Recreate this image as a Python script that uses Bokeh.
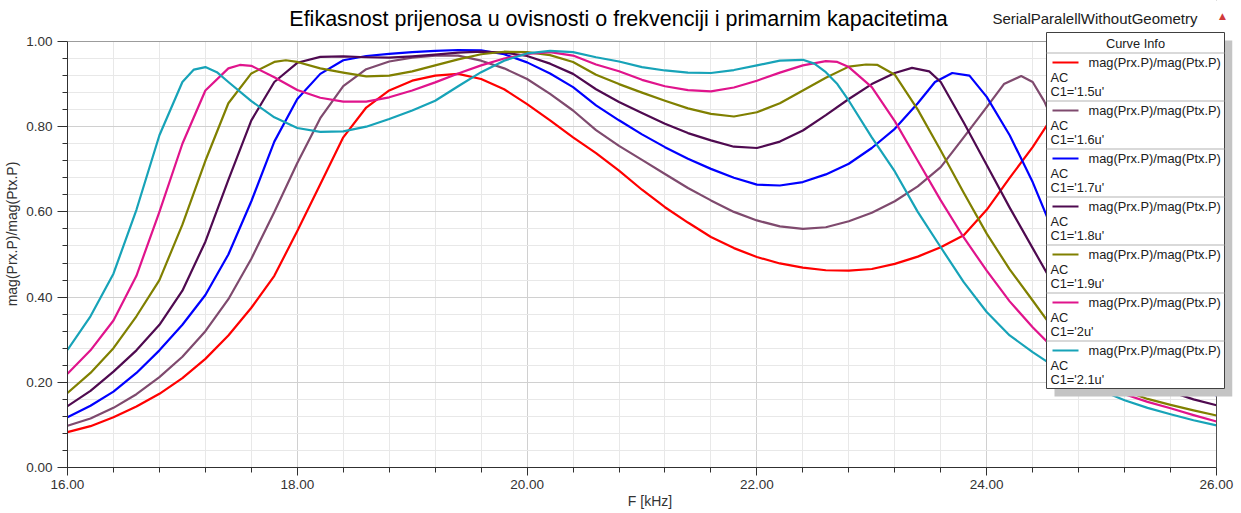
import math
from bokeh.plotting import figure
from bokeh.models import Range1d, FixedTicker, NumeralTickFormatter, Label, BoxAnnotation, Span
from bokeh.embed import file_html
from bokeh.resources import INLINE

# ---------------- data ----------------
f_15 = [16.0,16.2,16.4,16.6,16.8,17.0,17.2,17.4,17.6,17.8,18.0,18.2,18.4,18.6,18.8,19.0,19.2,19.4,19.6,19.8,
        20.0,20.2,20.4,20.6,20.8,21.0,21.2,21.4,21.6,21.8,22.0,22.2,22.4,22.6,22.8,23.0,23.2,23.4,23.6,23.8,
        24.0,24.2,24.4,24.6,24.8,25.0,25.2,25.4,25.6,25.8,26.0]
v_15 = [0.083,0.097,0.118,0.143,0.173,0.210,0.255,0.310,0.375,0.450,0.555,0.665,0.775,0.845,0.885,0.908,0.920,0.924,0.912,0.888,
        0.853,0.815,0.775,0.738,0.697,0.652,0.611,0.575,0.541,0.515,0.494,0.479,0.469,0.463,0.462,0.466,0.478,0.495,0.517,0.545,
        0.605,0.680,0.752,0.835,0.885,0.905,0.900,0.860,0.770,0.660,0.560]

f_16 = [16.0,16.2,16.4,16.6,16.8,17.0,17.2,17.4,17.6,17.8,18.0,18.2,18.4,18.6,18.8,19.0,19.2,19.4,19.6,19.8,
        20.0,20.2,20.4,20.6,20.8,21.0,21.2,21.4,21.6,21.8,22.0,22.2,22.4,22.6,22.8,23.0,23.2,23.4,23.6,23.8,
        24.0,24.15,24.3,24.4,24.5,24.6,24.8,25.0,25.2,25.4,25.6,25.8,26.0]
v_16 = [0.098,0.115,0.140,0.172,0.212,0.260,0.320,0.395,0.490,0.600,0.715,0.820,0.895,0.935,0.953,0.962,0.967,0.967,0.955,0.937,
        0.912,0.877,0.838,0.792,0.755,0.722,0.689,0.656,0.627,0.600,0.580,0.566,0.560,0.564,0.578,0.598,0.625,0.660,0.705,0.775,
        0.846,0.900,0.919,0.905,0.860,0.800,0.700,0.600,0.510,0.430,0.365,0.310,0.265]

f_17 = [16.0,16.2,16.4,16.6,16.8,17.0,17.2,17.4,17.6,17.8,18.0,18.2,18.4,18.6,18.8,19.0,19.2,19.4,19.6,19.8,
        20.0,20.2,20.4,20.6,20.8,21.0,21.2,21.4,21.6,21.8,22.0,22.2,22.4,22.6,22.8,23.0,23.2,23.4,23.55,23.7,
        23.85,24.0,24.2,24.4,24.6,24.8,25.0,25.2,25.4,25.6,25.8,26.0]
v_17 = [0.118,0.145,0.178,0.222,0.275,0.335,0.405,0.500,0.625,0.765,0.865,0.924,0.956,0.966,0.971,0.975,0.978,0.980,0.979,0.970,
        0.951,0.925,0.893,0.850,0.815,0.782,0.752,0.725,0.701,0.680,0.664,0.662,0.670,0.688,0.713,0.750,0.795,0.855,0.905,0.926,
        0.920,0.870,0.780,0.670,0.540,0.430,0.340,0.280,0.240,0.210,0.188,0.169]

f_18 = [16.0,16.2,16.4,16.6,16.8,17.0,17.2,17.4,17.6,17.8,18.0,18.2,18.4,18.6,18.8,19.0,19.2,19.4,19.6,19.8,
        20.0,20.2,20.4,20.6,20.8,21.0,21.2,21.4,21.6,21.8,22.0,22.2,22.4,22.6,22.8,23.0,23.2,23.35,23.5,23.6,
        23.8,24.0,24.2,24.4,24.6,24.8,25.0,25.2,25.4,25.6,25.8,26.0]
v_18 = [0.144,0.180,0.225,0.275,0.335,0.415,0.530,0.675,0.815,0.905,0.950,0.964,0.965,0.963,0.962,0.965,0.969,0.974,0.976,0.974,
        0.966,0.948,0.924,0.888,0.858,0.832,0.807,0.785,0.768,0.753,0.750,0.765,0.791,0.827,0.865,0.900,0.926,0.938,0.930,0.905,
        0.810,0.710,0.610,0.515,0.420,0.345,0.285,0.240,0.205,0.178,0.160,0.146]

f_19 = [16.0,16.2,16.4,16.6,16.8,17.0,17.2,17.4,17.6,17.8,17.9,18.0,18.2,18.4,18.6,18.8,19.0,19.2,19.4,19.6,19.8,
        20.0,20.2,20.4,20.6,20.8,21.0,21.2,21.4,21.6,21.8,22.0,22.2,22.4,22.6,22.8,22.95,23.05,23.2,23.4,23.6,23.8,
        24.0,24.2,24.4,24.6,24.8,25.0,25.2,25.4,25.6,25.8,26.0]
v_19 = [0.175,0.222,0.280,0.355,0.440,0.570,0.720,0.855,0.925,0.952,0.956,0.952,0.937,0.927,0.918,0.920,0.930,0.944,0.958,0.970,0.976,
        0.975,0.968,0.952,0.922,0.900,0.880,0.861,0.843,0.830,0.824,0.834,0.855,0.885,0.915,0.941,0.946,0.945,0.922,0.840,0.744,0.645,
        0.549,0.465,0.392,0.318,0.262,0.215,0.180,0.161,0.147,0.134,0.122]

f_20 = [16.0,16.2,16.4,16.6,16.8,17.0,17.2,17.4,17.5,17.6,17.8,18.0,18.2,18.4,18.6,18.8,19.0,19.2,19.4,19.6,19.8,
        20.0,20.2,20.4,20.6,20.8,21.0,21.2,21.4,21.6,21.8,22.0,22.2,22.4,22.6,22.7,22.8,23.0,23.2,23.4,23.6,23.8,
        24.0,24.2,24.4,24.6,24.8,25.0,25.2,25.4,25.6,25.8,26.0]
v_20 = [0.220,0.275,0.345,0.450,0.600,0.760,0.885,0.937,0.945,0.943,0.916,0.886,0.868,0.859,0.859,0.869,0.885,0.904,0.925,0.944,0.960,
        0.971,0.975,0.967,0.946,0.930,0.910,0.895,0.886,0.883,0.892,0.908,0.927,0.944,0.954,0.952,0.940,0.893,0.813,0.720,0.627,0.540,
        0.462,0.390,0.329,0.275,0.232,0.198,0.172,0.154,0.139,0.123,0.108]

f_21 = [16.0,16.2,16.4,16.6,16.8,17.0,17.1,17.2,17.3,17.4,17.6,17.8,18.0,18.2,18.4,18.6,18.8,19.0,19.2,19.4,19.6,19.8,
        20.0,20.2,20.4,20.6,20.8,21.0,21.2,21.4,21.6,21.8,22.0,22.2,22.4,22.5,22.6,22.7,22.8,23.0,23.2,23.4,23.6,23.8,
        24.0,24.2,24.4,24.6,24.8,25.0,25.2,25.4,25.6,25.8,26.0]
v_21 = [0.276,0.355,0.455,0.605,0.780,0.905,0.934,0.940,0.928,0.905,0.860,0.822,0.797,0.788,0.789,0.800,0.818,0.838,0.861,0.895,0.928,0.955,
        0.972,0.978,0.975,0.963,0.953,0.940,0.932,0.927,0.926,0.933,0.944,0.955,0.957,0.948,0.928,0.900,0.861,0.775,0.695,0.600,0.517,0.435,
        0.365,0.310,0.271,0.235,0.205,0.180,0.158,0.140,0.125,0.111,0.099]

series_f = [f_15, f_16, f_17, f_18, f_19, f_20, f_21]
series_v = [v_15, v_16, v_17, v_18, v_19, v_20, v_21]
c1_labels = ["1.5u", "1.6u", "1.7u", "1.8u", "1.9u", "2u", "2.1u"]
colors = ["#ff0000", "#7f4a6e", "#0000ff", "#4f0a50", "#808000", "#e0148c", "#17a3b8"]

x_major = [16, 18, 20, 22, 24, 26]
x_minor = [16 + 0.4 * i for i in range(26)]
y_major = [0.0, 0.2, 0.4, 0.6, 0.8, 1.0]
y_minor = [0.04 * i for i in range(26)]

title_text = "Efikasnost prijenosa u ovisnosti o frekvenciji i primarnim kapacitetima"
design_text = "SerialParalellWithoutGeometry"
x_label = "F [kHz]"
y_label = "mag(Prx.P)/mag(Ptx.P)"
trace_name = "mag(Prx.P)/mag(Ptx.P)"

# ---------------- layout (page pixels) ----------------
W, H = 1240, 513
FL, FT, FR, FB = 67, 0, 1232, 467        # frame: includes title strip and legend area
PX_PER_X = (1216 - 67) / 10.0            # plot area 16..26 spans x 67..1216
PX_PER_Y = (467 - 41) / 1.0              # plot area 0..1 spans y 467..41
x_end = 26 + (FR - 1216) / PX_PER_X
y_end = 1 + (41 - FT) / PX_PER_Y

FONT = "Liberation Sans"
p = figure(width=W, height=H, output_backend="svg", toolbar_location=None, title=None,
           x_range=Range1d(16, x_end), y_range=Range1d(0, y_end),
           min_border_left=FL, min_border_right=W - FR, min_border_top=FT, min_border_bottom=H - FB)
p.background_fill_color = "white"
p.border_fill_color = "white"
p.outline_line_color = None

p.xaxis.ticker = FixedTicker(ticks=x_major, minor_ticks=x_minor)
p.yaxis.ticker = FixedTicker(ticks=y_major, minor_ticks=y_minor)
p.xaxis.formatter = NumeralTickFormatter(format="0.00")
p.yaxis.formatter = NumeralTickFormatter(format="0.00")
p.xaxis.bounds = (16, 26)
p.yaxis.bounds = (0, 1)
for ax in (p.xaxis, p.yaxis):
    ax.axis_line_color = "#303030"
    ax.major_tick_line_color = "#303030"
    ax.minor_tick_line_color = "#303030"
    ax.major_tick_in = 0
    ax.minor_tick_in = 0
    ax.major_label_text_font = FONT
    ax.major_label_text_font_size = "13.5px"
    ax.major_label_text_color = "#333333"
    ax.axis_label_text_font = FONT
    ax.axis_label_text_font_size = "14px"
    ax.axis_label_text_font_style = "normal"
    ax.axis_label_text_color = "#333333"
p.xaxis.axis_label = x_label
p.yaxis.axis_label = y_label
p.xaxis.major_tick_out = 8
p.xaxis.minor_tick_out = 5
p.xaxis.major_label_standoff = 4
p.xaxis.axis_label_standoff = 1
p.yaxis.major_tick_out = 10
p.yaxis.minor_tick_out = 5
p.yaxis.major_label_standoff = 5
p.yaxis.axis_label_standoff = 3

for g in (p.xgrid, p.ygrid):
    g.grid_line_color = "#d0d0d0"
    g.minor_grid_line_color = "#e8e8e8"
    g.grid_line_width = 1
    g.minor_grid_line_width = 1
try:
    p.xgrid.cross_bounds = (0, 1)
    p.ygrid.cross_bounds = (16, 26)
except Exception:
    pass

for fx, vy, col in zip(series_f, series_v, colors):
    p.line(fx, vy, line_color=col, line_width=2.2, line_join="round")

# plot-area right border
p.add_layout(Span(location=26.0, dimension="height", line_color="#505050", line_width=1))
# white cover for the border segment above the plot area
p.add_layout(BoxAnnotation(bottom=1.0, top=y_end, left=16, right=x_end, fill_color="white",
                           fill_alpha=1.0, line_alpha=0.0))


# ---------------- annotations (page pixel coords -> frame screen units) ----------------
def sx(X):
    return X - FL


def sy(Y):
    return FB - Y


def lab(X, Y, text, size, align="left", color="#000000", angle=0.0, font=FONT):
    p.add_layout(Label(x=sx(X), y=sy(Y), x_units="screen", y_units="screen", text=text,
                       text_font=font, text_font_size=size, text_align=align,
                       text_baseline="middle", text_color=color, angle=angle))


def box(L, T, R, B, fill, line=None, lw=1):
    p.add_layout(BoxAnnotation(left=sx(L), right=sx(R), top=sy(T), bottom=sy(B),
                               left_units="screen", right_units="screen",
                               top_units="screen", bottom_units="screen",
                               fill_color=fill, fill_alpha=1.0,
                               line_color=line if line else fill, line_alpha=1.0 if line else 0.0,
                               line_width=lw))


# top border only along the plot area
box(67, 41, 1216, 41.5, "#505050")

lab(618, 18, title_text, "21.5px", align="center")
lab(1197, 18, design_text, "15px", align="right", color="#202020")
lab(1222, 15, "\u25B2", "9px", align="center", color="#d03a3a", font="DejaVu Sans")

# legend
box(1054, 40, 1232, 396, "#c4c4c4")
box(1046, 32, 1224, 388, "#ffffff", line="#404040", lw=1)
lab(1135, 43, "Curve Info", "12.8px", align="center", color="#202020")
box(1046, 52, 1224, 53, "#b4b4b4")
for i, (col, c1) in enumerate(zip(colors, c1_labels)):
    top = 52 + 48 * i
    box(1052, top + 9, 1078, top + 11, col)
    lab(1088, top + 10, trace_name, "12.8px", color="#202020")
    lab(1050, top + 25, "AC", "12.8px", color="#202020")
    lab(1050, top + 39, "C1='" + c1 + "'", "12.8px", color="#202020")
    if i < 6:
        box(1046, top + 48, 1224, top + 49, "#b4b4b4")

open("out.html", "w").write(file_html(p, INLINE))
